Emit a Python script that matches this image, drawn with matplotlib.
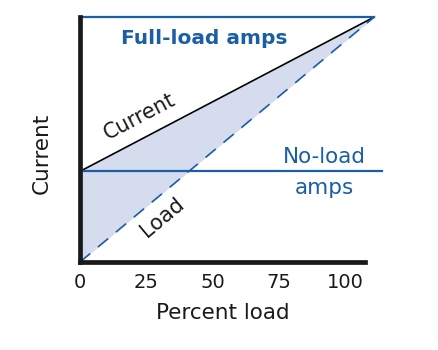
import numpy as np
import matplotlib
matplotlib.use("Agg")
import matplotlib.pyplot as plt

# values
pct_load = [0, 111]          # percent load at start / end of lines
load_current = [0, 100]      # load component
total_current = [37, 100]    # measured current
no_load_amps = 37
full_load_amps = 100
no_load_end = 114
xticks = [0, 25, 50, 75, 100]

blue = "#1a5ea6"
fill = "#d4dced"

fig = plt.figure(figsize=(4.38, 3.5), dpi=100)
ax = fig.add_axes([80/438, 88/350, 285/438, 245/350])
ax.set_xlim(0, 107.5)
ax.set_ylim(0, 100)

ax.fill_between(pct_load, load_current, total_current, color=fill, lw=0, clip_on=False, zorder=1)
ax.plot(pct_load, total_current, color="black", lw=1.2, clip_on=False, zorder=3)
ax.plot(pct_load, load_current, color=blue, lw=1.2, ls=(0, (8, 6)), clip_on=False, zorder=3)
ax.plot([0, pct_load[1]], [full_load_amps, full_load_amps], color=blue, lw=1.6, clip_on=False, zorder=3)
ax.plot([0, no_load_end], [no_load_amps, no_load_amps], color=blue, lw=1.6, clip_on=False, zorder=3)

for s in ["top", "right"]:
    ax.spines[s].set_visible(False)
for s in ["left", "bottom"]:
    ax.spines[s].set_linewidth(3.4)
    ax.spines[s].set_color("#1a1a1a")
    ax.spines[s].set_zorder(4)

ax.set_yticks([])
ax.set_xticks(xticks)
ax.set_xticklabels([str(t) for t in xticks])
ax.tick_params(axis="x", length=0, pad=8, labelsize=14, labelcolor="#1a1a1a")

ax.set_xlabel("Percent load", fontsize=15.5, color="#1a1a1a", labelpad=8)
ax.set_ylabel("Current", fontsize=15.5, color="#1a1a1a")
ax.yaxis.set_label_coords(-0.098, 0.445)

# angles of the lines on screen for the labels
def screen_angle(xs, ys):
    p = ax.transData.transform(np.column_stack([xs, ys]))
    return np.degrees(np.arctan2(p[1, 1] - p[0, 1], p[1, 0] - p[0, 0]))

ax.text(47, 91.4, "Full-load amps", color=blue, fontsize=14.5, fontweight="semibold",
        ha="center", va="center")
ax.text(22.6, 59.5, "Current", color="#1a1a1a", fontsize=15,
        rotation=screen_angle(pct_load, total_current), ha="center", va="center")
ax.text(30.9, 18.4, "Load", color="#1a1a1a", fontsize=15,
        rotation=screen_angle(pct_load, load_current), ha="center", va="center")
ax.text(92, 42.8, "No-load", color=blue, fontsize=15.5, ha="center", va="center")
ax.text(92, 30.2, "amps", color=blue, fontsize=15.5, ha="center", va="center")

fig.savefig("out.png", dpi=100)
